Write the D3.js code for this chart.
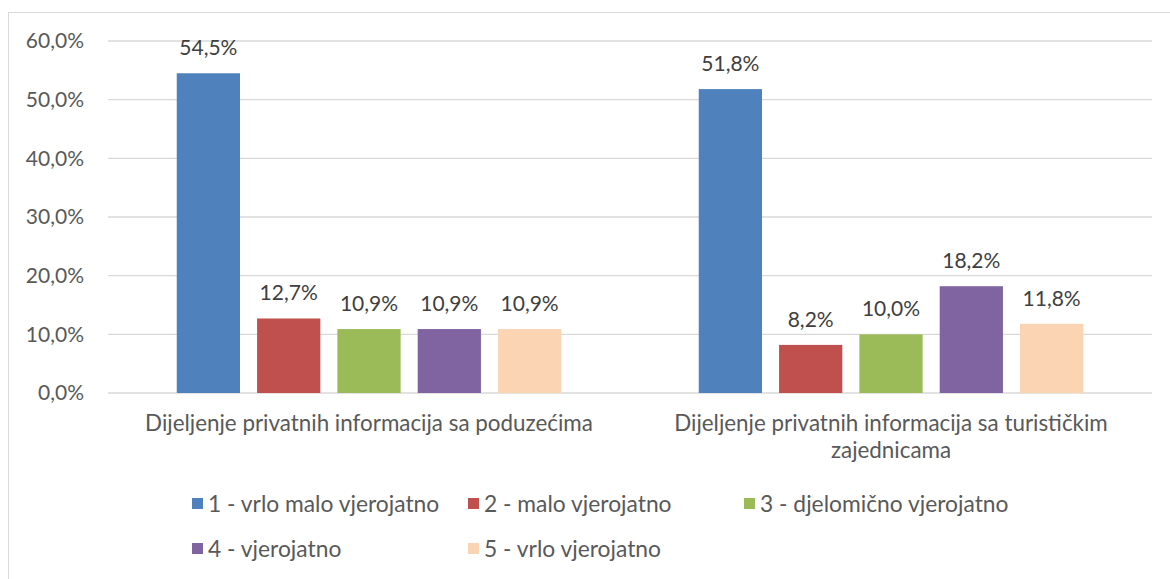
<!DOCTYPE html>
<html>
<head>
<meta charset="utf-8">
<script src="https://cdn.jsdelivr.net/npm/d3@7"></script>
<style>
  body { margin: 0; background: #fff; }
  text { font-family: Lato, "Open Sans", sans-serif; }
</style>
</head>
<body>
<div id="chart"></div>
<script>
var categories = [
    ["Dijeljenje privatnih informacija sa poduzećima"],
    ["Dijeljenje privatnih informacija sa turističkim", "zajednicama"]
];
var seriesNames = ["1 - vrlo malo vjerojatno", "2 - malo vjerojatno", "3 - djelomično vjerojatno",
                   "4 - vjerojatno", "5 - vrlo vjerojatno"];
var seriesColors = ["#4F81BD", "#C0504D", "#9BBB59", "#8064A2", "#FBD4B4"];
var valuesPoduzeca = [54.5, 12.7, 10.9, 10.9, 10.9];
var valuesTuristicke = [51.8, 8.2, 10.0, 18.2, 11.8];
var yTicks = [0, 10, 20, 30, 40, 50, 60];

var W = 1170, H = 579;
var margin = {top: 41, right: 18, bottom: 186, left: 108},
    width = W - margin.left - margin.right,
    height = H - margin.top - margin.bottom;

var groups = [valuesPoduzeca, valuesTuristicke];
var fmt = function(v) { return d3.format(".1f")(v).replace(".", ",") + "%"; };

var svg = d3.select("#chart").append("svg")
        .attr("width", W)
        .attr("height", H);

// chart frame
svg.append("rect")
        .attr("x", 8.5).attr("y", 12.5)
        .attr("width", W).attr("height", H)
        .attr("fill", "none")
        .attr("stroke", "#D9D9D9");

var g = svg.append("g")
        .attr("transform", "translate(" + margin.left + "," + margin.top + ")");

var x0 = d3.scaleBand()
        .domain(d3.range(categories.length))
        .range([0, width]);

var x1 = d3.scaleBand()
        .domain(d3.range(seriesNames.length))
        .range([0, x0.bandwidth()])
        .paddingInner(0.2125)
        .paddingOuter(0.856);

var y = d3.scaleLinear()
        .domain([0, 60])
        .range([height, 0]);

// gridlines
g.append("g")
        .selectAll("line")
        .data(yTicks)
        .enter().append("line")
        .attr("x1", 0).attr("x2", width)
        .attr("y1", function(d) { return y(d); })
        .attr("y2", function(d) { return y(d); })
        .attr("stroke", "#D9D9D9")
        .attr("stroke-width", 1.3);

var yAxis = d3.axisLeft(y)
        .tickValues(yTicks)
        .tickSize(0)
        .tickPadding(24)
        .tickFormat(fmt);

g.append("g")
        .attr("class", "y axis")
        .call(yAxis)
        .call(function(a) { a.select(".domain").remove(); })
        .selectAll("text")
        .attr("font-family", "Lato, sans-serif")
        .attr("font-size", 21)
        .attr("fill", "#595959");

var grp = g.selectAll("g.group")
        .data(groups)
        .enter().append("g")
        .attr("class", "group")
        .attr("transform", function(d, i) { return "translate(" + x0(i) + ",0)"; });

grp.selectAll("rect")
        .data(function(d) { return d; })
        .enter().append("rect")
        .attr("x", function(d, i) { return x1(i); })
        .attr("width", x1.bandwidth())
        .attr("y", function(d) { return y(d); })
        .attr("height", function(d) { return height - y(d); })
        .attr("fill", function(d, i) { return seriesColors[i]; });

grp.selectAll("text.value")
        .data(function(d) { return d; })
        .enter().append("text")
        .attr("class", "value")
        .attr("x", function(d, i) { return x1(i) + x1.bandwidth() / 2; })
        .attr("y", function(d) { return y(d) - 18; })
        .attr("text-anchor", "middle")
        .attr("font-size", 21)
        .attr("fill", "#404040")
        .text(fmt);

// category labels
var cat = g.selectAll("text.cat")
        .data(categories)
        .enter().append("text")
        .attr("class", "cat")
        .attr("text-anchor", "middle")
        .attr("font-size", 22.4)
        .attr("fill", "#595959")
        .attr("transform", function(d, i) {
            return "translate(" + (x0(i) + x0.bandwidth() / 2) + "," + (height + 38) + ")";
        });

cat.selectAll("tspan")
        .data(function(d) { return d; })
        .enter().append("tspan")
        .attr("x", 0)
        .attr("dy", function(d, i) { return i ? 27 : 0; })
        .text(function(d) { return d; });

// legend
var legend = svg.append("g")
        .attr("transform", "translate(192,505)");

var item = legend.selectAll("g")
        .data(seriesNames)
        .enter().append("g")
        .attr("transform", function(d, i) {
            return "translate(" + (i % 3) * 276 + "," + Math.floor(i / 3) * 45 + ")";
        });

item.append("rect")
        .attr("x", 0).attr("y", -7)
        .attr("width", 11).attr("height", 11)
        .attr("fill", function(d, i) { return seriesColors[i]; });

item.append("text")
        .attr("x", 16)
        .attr("y", 7)
        .attr("font-size", 22.8)
        .attr("fill", "#595959")
        .text(function(d) { return d; });
</script>
</body>
</html>
